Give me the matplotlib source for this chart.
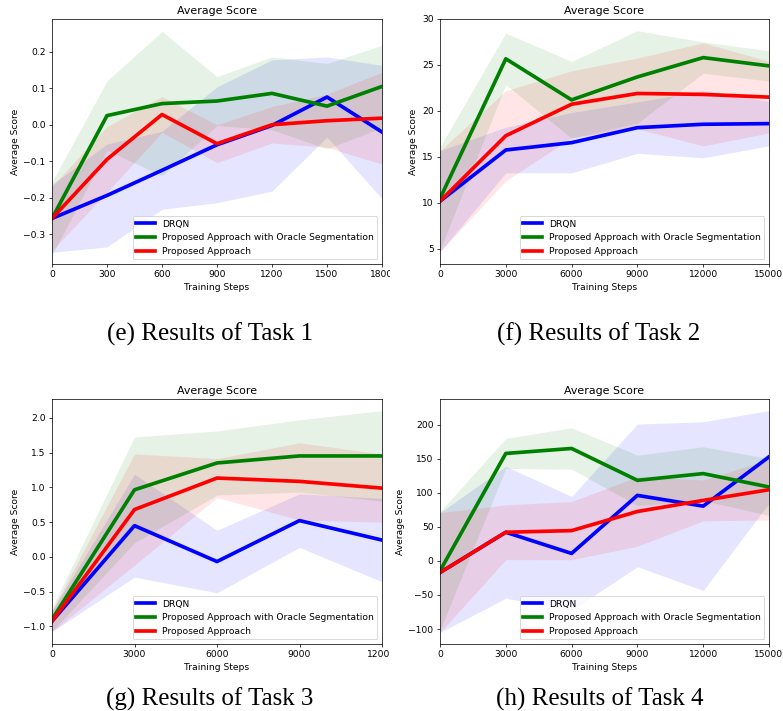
from __future__ import annotations

import matplotlib
import numpy as np
from matplotlib import pyplot as plt
from matplotlib.transforms import Bbox, TransformedBbox

matplotlib.use("Agg")

SERIES_NAMES = ["DRQN", "Proposed Approach with Oracle Segmentation", "Proposed Approach"]
SERIES_COLORS = ["blue", "green", "red"]

# Task 1
TASK1_STEPS = [0, 300, 600, 900, 1200, 1500, 1800]
TASK1_DRQN = [-0.257, -0.194, -0.125, -0.055, -0.002, 0.076, -0.020]
TASK1_DRQN_STD = [0.093, 0.141, 0.107, 0.159, 0.180, 0.110, 0.183]
TASK1_ORACLE = [-0.257, 0.025, 0.058, 0.065, 0.086, 0.051, 0.105]
TASK1_ORACLE_STD = [0.100, 0.095, 0.198, 0.067, 0.100, 0.117, 0.113]
TASK1_PROPOSED = [-0.257, -0.095, 0.028, -0.052, 0.000, 0.011, 0.018]
TASK1_PROPOSED_STD = [0.088, 0.090, 0.049, 0.052, 0.050, 0.073, 0.126]

# Task 2
TASK2_STEPS = [0, 3000, 6000, 9000, 12000, 15000]
TASK2_DRQN = [10.18, 15.75, 16.55, 18.18, 18.55, 18.62]
TASK2_DRQN_STD = [5.5, 2.48, 3.28, 2.80, 3.65, 2.42]
TASK2_ORACLE = [10.47, 25.67, 21.20, 23.70, 25.80, 24.90]
TASK2_ORACLE_STD = [5.6, 2.80, 4.18, 5.03, 1.70, 1.65]
TASK2_PROPOSED = [10.18, 17.30, 20.73, 21.90, 21.80, 21.50]
TASK2_PROPOSED_STD = [5.5, 4.90, 3.63, 3.85, 5.60, 3.90]

# Task 3
TASK3_STEPS = [0, 3000, 6000, 9000, 12000]
TASK3_DRQN = [-0.926, 0.448, -0.068, 0.521, 0.241]
TASK3_DRQN_STD = [0.15, 0.74, 0.45, 0.385, 0.60]
TASK3_ORACLE = [-0.900, 0.964, 1.350, 1.451, 1.451]
TASK3_ORACLE_STD = [0.17, 0.76, 0.46, 0.52, 0.65]
TASK3_PROPOSED = [-0.926, 0.680, 1.133, 1.085, 0.988]
TASK3_PROPOSED_STD = [0.15, 0.80, 0.28, 0.555, 0.49]

# Task 4
TASK4_STEPS = [0, 3000, 6000, 9000, 12000, 15000]
TASK4_DRQN = [-17.0, 42.2, 11.1, 96.4, 80.6, 153.0]
TASK4_DRQN_STD = [88.0, 97.0, 83.7, 104.8, 124.0, 68.0]
TASK4_ORACLE = [-14.5, 158.0, 165.3, 118.5, 128.4, 108.7]
TASK4_ORACLE_STD = [87.0, 22.0, 30.5, 37.0, 39.4, 41.8]
TASK4_PROPOSED = [-17.0, 42.2, 44.6, 72.7, 89.0, 104.7]
TASK4_PROPOSED_STD = [88.0, 40.2, 42.7, 51.0, 30.0, 44.4]

CAPTIONS = ["(e) Results of Task 1", "(f) Results of Task 2", "(g) Results of Task 3", "(h) Results of Task 4"]

PANELS = [
    (TASK1_STEPS, [(TASK1_DRQN, TASK1_DRQN_STD), (TASK1_ORACLE, TASK1_ORACLE_STD),
                   (TASK1_PROPOSED, TASK1_PROPOSED_STD)]),
    (TASK2_STEPS, [(TASK2_DRQN, TASK2_DRQN_STD), (TASK2_ORACLE, TASK2_ORACLE_STD),
                   (TASK2_PROPOSED, TASK2_PROPOSED_STD)]),
    (TASK3_STEPS, [(TASK3_DRQN, TASK3_DRQN_STD), (TASK3_ORACLE, TASK3_ORACLE_STD),
                   (TASK3_PROPOSED, TASK3_PROPOSED_STD)]),
    (TASK4_STEPS, [(TASK4_DRQN, TASK4_DRQN_STD), (TASK4_ORACLE, TASK4_ORACLE_STD),
                   (TASK4_PROPOSED, TASK4_PROPOSED_STD)]),
]
Y_LIMITS = [(-0.382, 0.290), (3.35, 30.0), (-1.254, 2.27), (-122.0, 238.0)]

# layout in pixels (left, top, right, bottom) and caption anchors
FIG_W, FIG_H = 783, 711
AXES_PX = [(52, 19, 382, 264), (440, 19, 769, 264), (52, 399, 382, 644), (440, 399, 769, 644)]
CAPTION_PX = [(210, 341), (599, 341), (210, 706), (600, 706)]
SCALE = 0.659


def _draw_panel(fig: plt.Figure, idx: int) -> None:
    left, top, right, bottom = AXES_PX[idx]
    ax = fig.add_axes([left / FIG_W, 1 - bottom / FIG_H, (right - left) / FIG_W, (bottom - top) / FIG_H])
    steps, series = PANELS[idx]
    x = np.asarray(steps, dtype=float)
    for (mean, std), name, color in zip(series, SERIES_NAMES, SERIES_COLORS):
        mean = np.asarray(mean)
        std = np.asarray(std)
        ax.fill_between(x, mean - std, mean + std, color=color, alpha=0.1, linewidth=0)
        ax.plot(x, mean, color=color, linewidth=4 * SCALE, label=name)

    ax.set_xlim(x[0], x[-1])
    ax.set_ylim(*Y_LIMITS[idx])
    ax.set_xticks(steps)
    ax.set_title("Average Score", fontsize=12 * SCALE, pad=6 * SCALE)
    ax.set_xlabel("Training Steps", fontsize=10 * SCALE, labelpad=4 * SCALE)
    ax.set_ylabel("Average Score", fontsize=10 * SCALE, labelpad=4 * SCALE)
    ax.tick_params(labelsize=10 * SCALE, length=3.5 * SCALE, width=0.8 * SCALE, pad=3.5 * SCALE)
    for spine in ax.spines.values():
        spine.set_linewidth(0.8 * SCALE)
    legend = ax.legend(loc="lower right", fontsize=10 * SCALE)
    legend.get_frame().set_linewidth(1.0 * SCALE)

    # left column images were cropped at their right edge
    if idx % 2 == 0:
        clip = TransformedBbox(Bbox([[0, 0], [390 / FIG_W, 1]]), fig.transFigure)
        for label in ax.get_xticklabels():
            label.set_clip_box(clip)
            label.set_clip_on(True)

    cx, cy = CAPTION_PX[idx]
    fig.text(cx / FIG_W, 1 - cy / FIG_H, CAPTIONS[idx], fontsize=18, family="Liberation Serif",
             ha="center", va="baseline")


def main() -> None:
    fig = plt.figure(figsize=(FIG_W / 100, FIG_H / 100), dpi=100)
    for idx in range(len(PANELS)):
        _draw_panel(fig, idx)
    fig.savefig("out.png", dpi=100)
    plt.close(fig)


if __name__ == "__main__":
    main()
